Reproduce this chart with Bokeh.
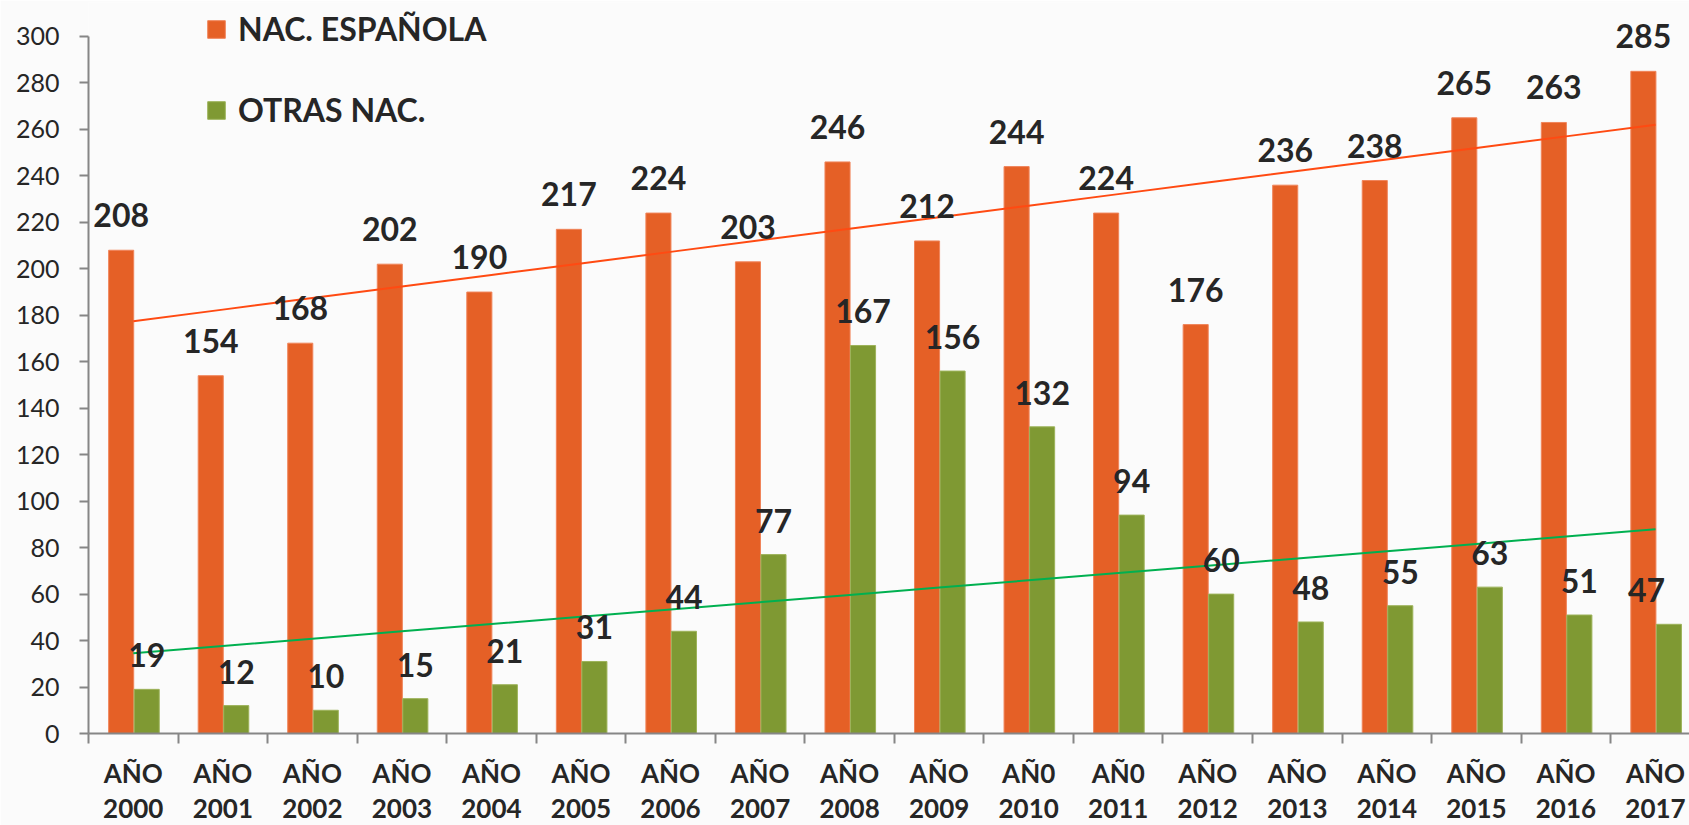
from bokeh.plotting import figure
from bokeh.models import ColumnDataSource, FixedTicker, Legend, LegendItem, Range1d, LinearAxis
from bokeh.core.properties import value
from bokeh.embed import file_html
from bokeh.resources import INLINE
import numpy as np

word = ["AÑO", "AÑO", "AÑO", "AÑO", "AÑO", "AÑO", "AÑO", "AÑO", "AÑO",
        "AÑO", "AÑ0", "AÑ0", "AÑO", "AÑO", "AÑO", "AÑO", "AÑO", "AÑO"]
years = ["2000", "2001", "2002", "2003", "2004", "2005", "2006", "2007", "2008",
         "2009", "2010", "2011", "2012", "2013", "2014", "2015", "2016", "2017"]
espanola = [208, 154, 168, 202, 190, 217, 224, 203, 246, 212, 244, 224, 176, 236, 238, 265, 263, 285]
otras = [19, 12, 10, 15, 21, 31, 44, 77, 167, 156, 132, 94, 60, 48, 55, 63, 51, 47]

ORANGE = "#E56026"
GREEN = "#7F9933"
TXT = "#262626"
AXC = "#868686"
FONT = "Lato"

n = len(years)
idx = np.arange(n)
XEND = 17.88
OFF_E, OFF_O, BW = 0.365, 0.65, 0.28

src = ColumnDataSource(dict(
    xe=idx + OFF_E, xo=idx + OFF_O,
    # keep the value labels inside the plot area (as the spreadsheet does)
    xel=np.minimum(idx + OFF_E, XEND - 0.48), xol=np.minimum(idx + OFF_O, XEND - 0.48),
    esp=espanola, otr=otras,
    esp_lbl=[str(v) for v in espanola],
    otr_lbl=[str(v) for v in otras],
))

p = figure(width=1689, height=825, output_backend="svg", toolbar_location=None,
           x_range=Range1d(0, XEND), y_range=Range1d(0, 314.63),
           min_border_left=88, min_border_top=2, min_border_bottom=92, min_border_right=0)
p.background_fill_color = "#fbfbfb"
p.border_fill_color = "#fbfbfb"
p.outline_line_color = None
p.xgrid.visible = False
p.ygrid.visible = False

r1 = p.vbar(x="xe", top="esp", width=BW, source=src,
            fill_color=ORANGE, line_color="#F0845A", line_width=1)
r2 = p.vbar(x="xo", top="otr", width=BW, source=src,
            fill_color=GREEN, line_color="#9DB35A", line_width=1)

# linear trend lines (least squares fit of each series)
ce = np.polyfit(idx, espanola, 1)
co = np.polyfit(idx, otras, 1)
p.line(idx + 0.5, np.polyval(ce, idx), line_color="#FF4A12", line_width=2)
p.line(idx + 0.5, np.polyval(co, idx), line_color="#00B050", line_width=2)

p.text(x="xel", y="esp", text="esp_lbl", source=src,
       text_align="center", text_baseline="bottom", y_offset=-23,
       text_font=value(FONT), text_font_style="bold", text_font_size="32px", text_color=TXT)
p.text(x="xol", y="otr", text="otr_lbl", source=src,
       text_align="center", text_baseline="bottom", y_offset=-22,
       text_font=value(FONT), text_font_style="bold", text_font_size="32px", text_color=TXT)

# y axis
ya = p.yaxis[0]
ya.ticker = FixedTicker(ticks=list(range(0, 301, 20)))
ya.bounds = (0, 300)
ya.major_label_text_font = FONT
ya.major_label_text_font_size = "25px"
ya.major_label_text_color = TXT
ya.axis_line_color = AXC
ya.axis_line_width = 2
ya.major_tick_line_color = AXC
ya.major_tick_line_width = 2
ya.major_tick_out = 9
ya.major_tick_in = 0
ya.minor_tick_line_color = None
ya.major_label_standoff = 20

# x axis: first line of the category labels, with separator ticks
centers = [i + 0.5 for i in range(n)]
xa = p.xaxis[0]
xa.ticker = FixedTicker(ticks=centers, minor_ticks=list(range(n + 1)))
xa.major_label_overrides = {c: w for c, w in zip(centers, word)}
xa.major_label_text_font = FONT
xa.major_label_text_font_style = "bold"
xa.major_label_text_font_size = "26px"
xa.major_label_text_color = TXT
xa.major_label_text_line_height = 1.0
xa.axis_line_color = AXC
xa.axis_line_width = 2
xa.major_tick_line_color = None
xa.minor_tick_line_color = AXC
xa.minor_tick_line_width = 2
xa.minor_tick_out = 10
xa.minor_tick_in = 0
xa.major_label_standoff = 13

# second line of the category labels
xb = LinearAxis(ticker=FixedTicker(ticks=centers),
                major_label_overrides={c: y for c, y in zip(centers, years)})
xb.major_label_text_font = FONT
xb.major_label_text_font_style = "bold"
xb.major_label_text_font_size = "26px"
xb.major_label_text_color = TXT
xb.major_label_text_line_height = 1.0
xb.axis_line_color = None
xb.major_tick_line_color = None
xb.minor_tick_line_color = None
xb.major_tick_out = 0
xb.major_tick_in = 0
xb.minor_tick_out = 0
xb.minor_tick_in = 0
xb.major_label_standoff = 7
p.add_layout(xb, "below")

legend = Legend(items=[LegendItem(label="NAC. ESPAÑOLA", renderers=[r1]),
                       LegendItem(label="OTRAS NAC.", renderers=[r2])],
                location=(117, 604), orientation="vertical",
                background_fill_alpha=0, border_line_color=None,
                glyph_width=22, glyph_height=22, label_height=22,
                label_text_font=FONT, label_text_font_style="bold",
                label_text_font_size="32px", label_text_color=TXT,
                spacing=42, padding=0, margin=0, label_standoff=11)
p.add_layout(legend)

open("out.html", "w").write(file_html(p, INLINE))
